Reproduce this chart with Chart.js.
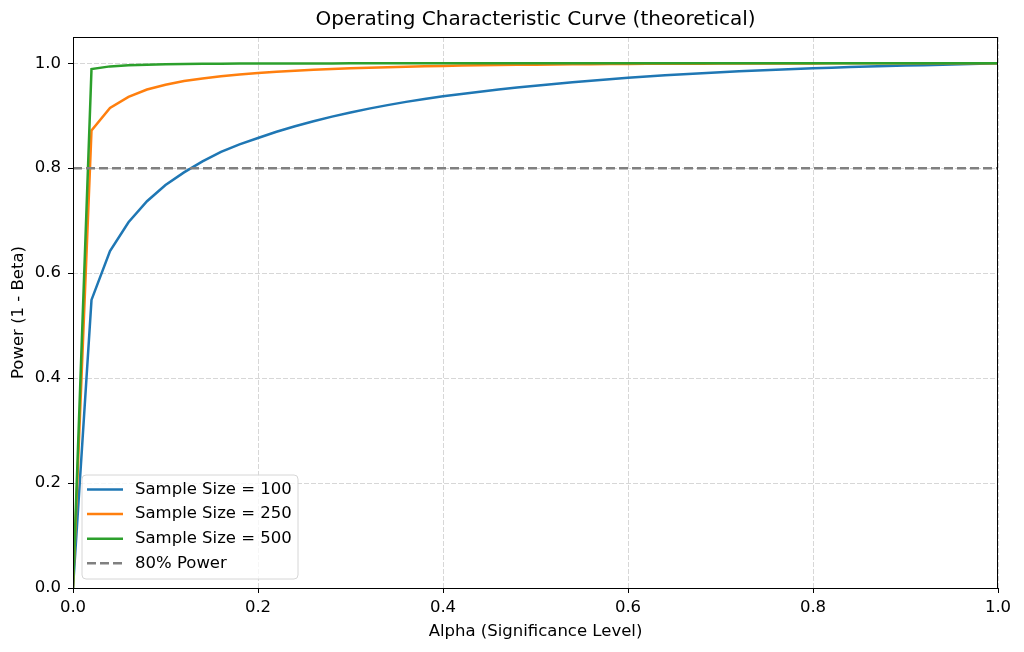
<!DOCTYPE html>
<html>
<head>
<meta charset="utf-8">
<title>Operating Characteristic Curve</title>
<script src="https://cdn.jsdelivr.net/npm/chart.js@4/dist/chart.umd.min.js"></script>
<style>
    html, body { margin: 0; padding: 0; background: #fff; }
    canvas { display: block; }
</style>
</head>
<body>
<canvas id="oc-chart" width="1024" height="652"></canvas>
<script>
// Alpha values (x axis)
const alphaValues = [
    0.00, 0.02, 0.04, 0.06, 0.08, 0.10, 0.12, 0.14, 0.16, 0.18,
    0.20, 0.22, 0.24, 0.26, 0.28, 0.30, 0.32, 0.34, 0.36, 0.38,
    0.40, 0.42, 0.44, 0.46, 0.48, 0.50, 0.52, 0.54, 0.56, 0.58,
    0.60, 0.62, 0.64, 0.66, 0.68, 0.70, 0.72, 0.74, 0.76, 0.78,
    0.80, 0.82, 0.84, 0.86, 0.88, 0.90, 0.92, 0.94, 0.96, 0.98, 1.00
];

// Power
const power100 = [
    0.000, 0.549, 0.642, 0.697, 0.737, 0.768, 0.792, 0.813, 0.831, 0.8455,
    0.8575, 0.8695, 0.8800, 0.8895, 0.8982, 0.9062, 0.9135, 0.9202, 0.9264, 0.9320,
    0.9370, 0.9415, 0.9458, 0.9498, 0.9536, 0.9572, 0.9606, 0.9638, 0.9668, 0.9696,
    0.9722, 0.9746, 0.9769, 0.9790, 0.9810, 0.9829, 0.9846, 0.9862, 0.9877, 0.9891,
    0.9904, 0.9916, 0.9927, 0.9937, 0.9946, 0.9955, 0.9964, 0.9973, 0.9982, 0.9991, 1.000
];
const power250 = [
    0.000, 0.872, 0.915, 0.936, 0.950, 0.959, 0.966, 0.971, 0.975, 0.9785,
    0.9813, 0.9837, 0.9858, 0.9876, 0.9891, 0.9904, 0.9915, 0.9925, 0.9934, 0.9942,
    0.9949, 0.9955, 0.9960, 0.9965, 0.9969, 0.9973, 0.9976, 0.9979, 0.9982, 0.9984,
    0.9986, 0.9988, 0.9990, 0.9991, 0.9992, 0.9993, 0.9994, 0.9995, 0.9996, 0.9997,
    0.9997, 0.9998, 0.9998, 0.9999, 0.9999, 0.9999, 0.9999, 1.000, 1.000, 1.000, 1.000
];
const power500 = [
    0.000, 0.989, 0.994, 0.996, 0.997, 0.998, 0.9985, 0.999, 0.9992, 0.9993,
    0.9995, 0.9996, 0.9996, 0.9997, 0.9997, 0.9998, 0.9998, 0.9998, 0.9999, 0.9999,
    0.9999, 0.9999, 0.9999, 1.000, 1.000, 1.000, 1.000, 1.000, 1.000, 1.000,
    1.000, 1.000, 1.000, 1.000, 1.000, 1.000, 1.000, 1.000, 1.000, 1.000,
    1.000, 1.000, 1.000, 1.000, 1.000, 1.000, 1.000, 1.000, 1.000, 1.000, 1.000
];
const thresholdX = [0, 1];
const thresholdY = [0.8, 0.8];

const seriesLabels = ['Sample Size = 100', 'Sample Size = 250', 'Sample Size = 500', '80% Power'];
const xTicks = [0, 0.2, 0.4, 0.6, 0.8, 1.0];
const yTicks = [0, 0.2, 0.4, 0.6, 0.8, 1.0];

const FONT = "'DejaVu Sans', sans-serif";

function toPoints(xs, ys) {
    return xs.map((x, i) => ({ x: x, y: ys[i] }));
}

/**
 * Frame, title, axis titles and the legend box inside the plot
 */
const decorPlugin = {
    id: 'decor',
    afterDraw(chart) {
        const ctx = chart.ctx;
        const area = chart.chartArea;
        ctx.save();

        // Axes frame
        ctx.strokeStyle = '#000';
        ctx.lineWidth = 1;
        ctx.setLineDash([]);
        ctx.strokeRect(area.left + 0.5, area.top + 0.5, area.right - area.left - 1, area.bottom - area.top);

        // Title
        ctx.fillStyle = '#000';
        ctx.font = `20px ${FONT}`;
        ctx.textAlign = 'center';
        ctx.textBaseline = 'middle';
        ctx.fillText('Operating Characteristic Curve (theoretical)', (area.left + area.right) / 2, 20);

        // Axis titles
        ctx.font = `16.5px ${FONT}`;
        ctx.fillText('Alpha (Significance Level)', (area.left + area.right) / 2, 632);
        ctx.save();
        ctx.translate(19, (area.top + area.bottom) / 2);
        ctx.rotate(-Math.PI / 2);
        ctx.fillText('Power (1 - Beta)', 0, 0);
        ctx.restore();

        // Legend
        const boxX = 82, boxY = 475, boxW = 216, boxH = 104, r = 4;
        ctx.beginPath();
        ctx.moveTo(boxX + r, boxY);
        ctx.arcTo(boxX + boxW, boxY, boxX + boxW, boxY + boxH, r);
        ctx.arcTo(boxX + boxW, boxY + boxH, boxX, boxY + boxH, r);
        ctx.arcTo(boxX, boxY + boxH, boxX, boxY, r);
        ctx.arcTo(boxX, boxY, boxX + boxW, boxY, r);
        ctx.closePath();
        ctx.fillStyle = 'rgba(255,255,255,0.8)';
        ctx.fill();
        ctx.strokeStyle = '#d6d6d6';
        ctx.lineWidth = 1;
        ctx.stroke();

        ctx.font = `16.5px ${FONT}`;
        ctx.textAlign = 'left';
        chart.data.datasets.forEach((ds, i) => {
            const y = 489.5 + i * 24.6;
            ctx.beginPath();
            ctx.strokeStyle = ds.borderColor;
            ctx.lineWidth = ds.borderWidth;
            ctx.setLineDash(ds.borderDash || []);
            ctx.moveTo(87, y);
            ctx.lineTo(123, y);
            ctx.stroke();
            ctx.setLineDash([]);
            ctx.fillStyle = '#000';
            ctx.fillText(ds.label, 135, y);
        });

        ctx.restore();
    }
};

function initializeChart() {
    const ctx = document.getElementById('oc-chart').getContext('2d');

    const gridOpts = {
        color: 'rgba(176,176,176,0.5)',
        lineWidth: 1,
        drawTicks: true,
        tickLength: 5,
        tickColor: '#000',
        tickWidth: 1,
        tickBorderDash: []
    };

    new Chart(ctx, {
        type: 'line',
        data: {
            datasets: [
                {
                    label: seriesLabels[0],
                    data: toPoints(alphaValues, power100),
                    borderColor: '#1f77b4',
                    borderWidth: 2.5,
                    order: 4
                },
                {
                    label: seriesLabels[1],
                    data: toPoints(alphaValues, power250),
                    borderColor: '#ff7f0e',
                    borderWidth: 2.5,
                    order: 3
                },
                {
                    label: seriesLabels[2],
                    data: toPoints(alphaValues, power500),
                    borderColor: '#2ca02c',
                    borderWidth: 2.5,
                    order: 2
                },
                {
                    label: seriesLabels[3],
                    data: toPoints(thresholdX, thresholdY),
                    borderColor: '#808080',
                    borderWidth: 2.5,
                    borderDash: [9, 4],
                    order: 1
                }
            ]
        },
        options: {
            responsive: false,
            devicePixelRatio: 1,
            animation: false,
            layout: {
                padding: { top: 37, right: 26, left: 0, bottom: 0 }
            },
            elements: {
                point: { radius: 0, hoverRadius: 0 },
                line: { tension: 0, fill: false }
            },
            scales: {
                x: {
                    type: 'linear',
                    min: 0,
                    max: 1,
                    afterFit: scale => { scale.height = 64; },
                    afterBuildTicks: scale => { scale.ticks = xTicks.map(v => ({ value: v })); },
                    ticks: {
                        color: '#000',
                        padding: 5,
                        maxRotation: 0,
                        font: { family: FONT, size: 16.5 },
                        callback: v => Number(v).toFixed(1)
                    },
                    grid: gridOpts,
                    border: { display: false, dash: [5, 2] }
                },
                y: {
                    type: 'linear',
                    min: 0,
                    max: 1.05,
                    afterFit: scale => { scale.width = 73; },
                    afterBuildTicks: scale => { scale.ticks = yTicks.map(v => ({ value: v })); },
                    ticks: {
                        color: '#000',
                        padding: 7,
                        font: { family: FONT, size: 16.5 },
                        callback: v => Number(v).toFixed(1)
                    },
                    grid: gridOpts,
                    border: { display: false, dash: [5, 2] }
                }
            },
            plugins: {
                legend: { display: false },
                title: { display: false },
                tooltip: { enabled: false }
            }
        },
        plugins: [decorPlugin]
    });
}

document.addEventListener('DOMContentLoaded', initializeChart);
</script>
</body>
</html>
